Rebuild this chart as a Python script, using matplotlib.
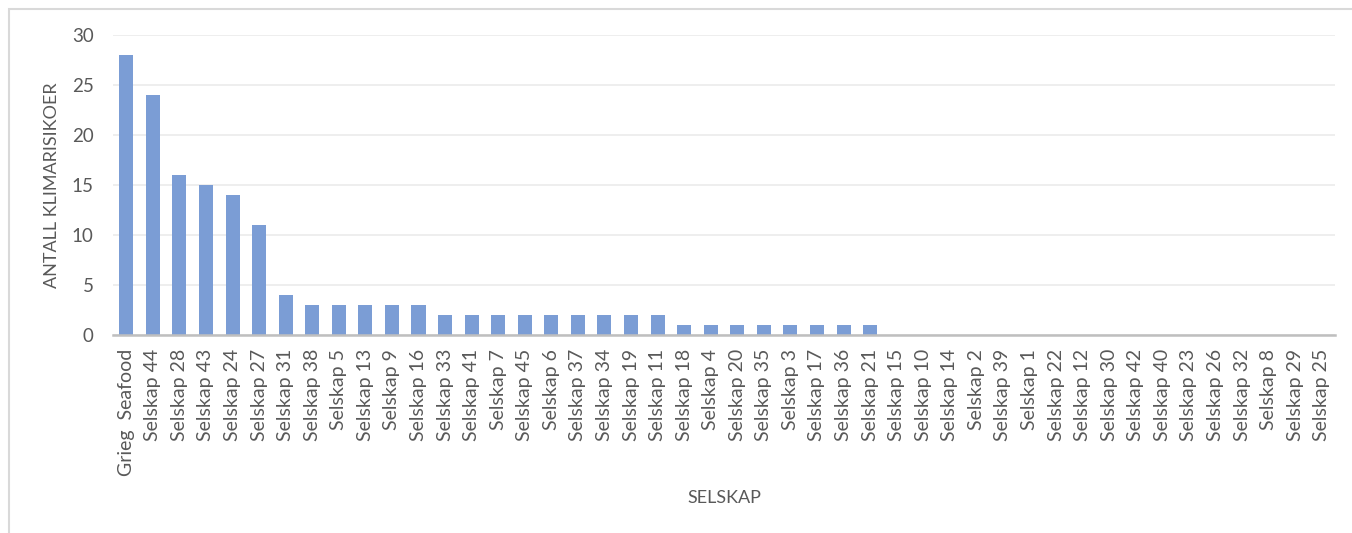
import matplotlib
matplotlib.use("Agg")
import matplotlib.pyplot as plt
from matplotlib.patches import Rectangle

categories = ["Grieg  Seafood", "Selskap 44", "Selskap 28", "Selskap 43", "Selskap 24", "Selskap 27",
              "Selskap 31", "Selskap 38", "Selskap 5", "Selskap 13", "Selskap 9", "Selskap 16",
              "Selskap 33", "Selskap 41", "Selskap 7", "Selskap 45", "Selskap 6", "Selskap 37",
              "Selskap 34", "Selskap 19", "Selskap 11", "Selskap 18", "Selskap 4", "Selskap 20",
              "Selskap 35", "Selskap 3", "Selskap 17", "Selskap 36", "Selskap 21", "Selskap 15",
              "Selskap 10", "Selskap 14", "Selskap 2", "Selskap 39", "Selskap 1", "Selskap 22",
              "Selskap 12", "Selskap 30", "Selskap 42", "Selskap 40", "Selskap 23", "Selskap 26",
              "Selskap 32", "Selskap 8", "Selskap 29", "Selskap 25"]
values = [28, 24, 16, 15, 14, 11,
          4, 3, 3, 3, 3, 3,
          2, 2, 2, 2, 2, 2,
          2, 2, 2, 1, 1, 1,
          1, 1, 1, 1, 1, 0,
          0, 0, 0, 0, 0, 0,
          0, 0, 0, 0, 0, 0,
          0, 0, 0, 0]
yticks = [0, 5, 10, 15, 20, 25, 30]

plt.rcParams['font.family'] = ['Lato', 'DejaVu Sans']
W, H = 1352, 533
fig = plt.figure(figsize=(W/100, H/100), dpi=100)
fig.patches.append(Rectangle((9/W, -0.1), 1.2, 1 - 9/H + 0.1, transform=fig.transFigure,
                             fill=False, edgecolor='#D9D9D9', linewidth=1.5))

x0, x1, ytop, ybot = 113, 1335, 35, 335
ax = fig.add_axes([x0/W, 1 - ybot/H, (x1-x0)/W, (ybot-ytop)/H])
xs = list(range(len(categories)))
ax.bar(xs, values, width=0.53, color='#7B9DD5', zorder=3)
ax.set_xlim(-0.5, len(categories) - 0.5)
ax.set_ylim(0, 30)
ax.set_yticks(yticks)
ax.set_xticks(xs)
ax.set_xticklabels(categories, rotation=90, fontsize=14, color='#595959')
ax.tick_params(axis='y', labelsize=13.5, labelcolor='#595959', length=0, pad=14)
ax.tick_params(axis='x', length=0, pad=10)
ax.grid(axis='y', color='#EBEBEB', linewidth=1.2, zorder=0)
for s in ['top', 'right', 'left']:
    ax.spines[s].set_visible(False)
ax.spines['bottom'].set_color('#BFBFBF')
ax.spines['bottom'].set_linewidth(1.8)
ax.spines['bottom'].set_zorder(4)
fig.text(52/W, 1 - 185/H, 'ANTALL KLIMARISIKOER', fontsize=13, color='#595959',
         ha='center', va='center', rotation=90)
fig.text(724/W, 1 - 498/H, 'SELSKAP', fontsize=13, color='#595959', ha='center', va='center')

fig.savefig('out.png', dpi=100)
